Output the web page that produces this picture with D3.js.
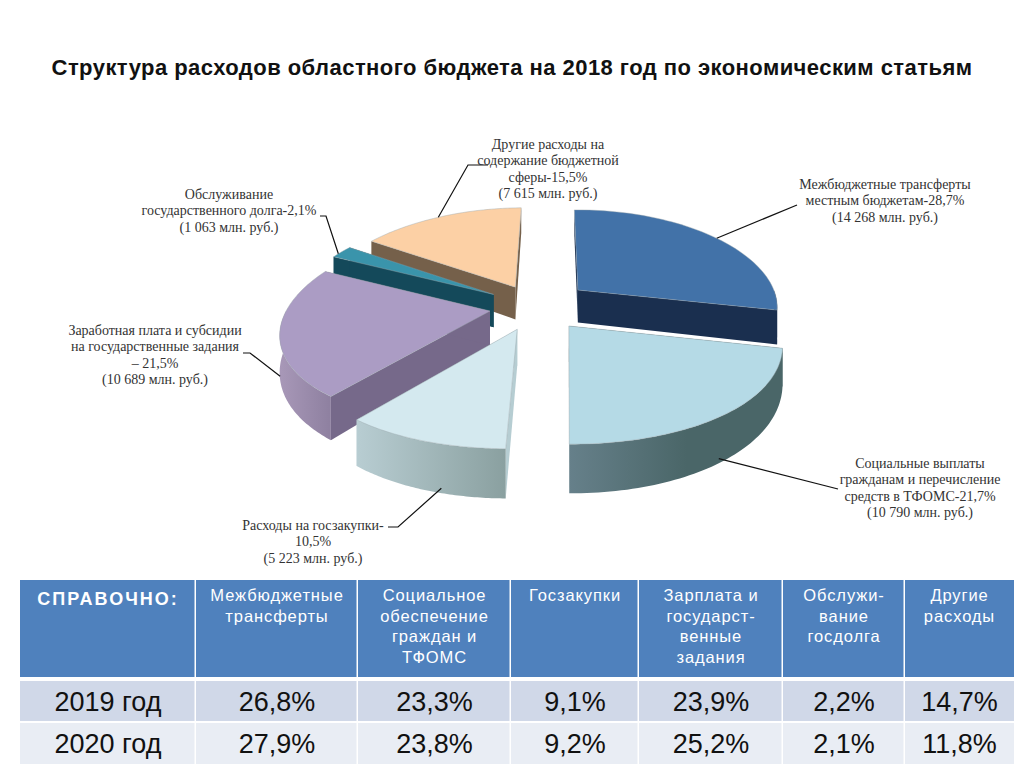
<!DOCTYPE html>
<html><head><meta charset="utf-8">
<script src="https://cdn.jsdelivr.net/npm/d3@7"></script>
<style>html,body{margin:0;padding:0;background:#fff}svg{display:block}</style></head>
<body><svg id="c" width="1024" height="767"></svg>
<script>
const title = "Структура расходов областного бюджета на 2018 год по экономическим статьям";
const sliceKeys = ["blue","social","procure","salary","debt","other"];
const sliceShares = [28.7,21.7,10.5,21.5,2.1,15.5];
const sliceExplode = [0.27,0.26,0.25,0.23,0.25,0.23];
const sliceTop = ["#4272a8","#b5dae6","#d4e9ef","#ab9cc4","#3a94ab","#fcd0a5"];
const sliceFace = ["#1a2f4f","#4a6668","#b6cdd2","#76698a","#14495a","#75604a"];
const rimLeft = ["#1a2f4f","#66808a","#b8cdd2","#a898b8","#14495a","#75604a"];
const rimRight = ["#1a2f4f","#4a6668","#8aa0a0","#8e80a0","#14495a","#75604a"];
const paintOrder = [5,4,0,3,1,2];
const sliceLabels = [
 ["Межбюджетные трансферты","местным бюджетам-28,7%","(14 268 млн. руб.)"],
 ["Социальные выплаты","гражданам и перечисление","средств в ТФОМС-21,7%","(10 790 млн. руб.)"],
 ["Расходы на госзакупки-","10,5%","(5 223 млн. руб.)"],
 ["Заработная плата и субсидии","на государственные задания","– 21,5%","(10 689 млн. руб.)"],
 ["Обслуживание","государственного долга-2,1%","(1 063 млн. руб.)"],
 ["Другие расходы на","содержание бюджетной","сферы-15,5%","(7 615 млн. руб.)"]
];
const labelAnchor = [[885,185],[920,464],[313,526],[155,331],[229,195],[548,145]];
const leaderElbow = [[[797,205]],[[838,489]],[[398,527],[388,527]],[[250,353],[243,353]],[[326,216],[320,216]],[[468,165],[488,165]]];
const leaderAngle = [52,143,195,252,298,330];
const tableHead = ["СПРАВОЧНО:","Межбюджетные|трансферты","Социальное|обеспечение|граждан и|ТФОМС","Госзакупки","Зарплата и|государст-|венные|задания","Обслужи-|вание|госдолга","Другие|расходы"];
const rowNames = ["2019 год","2020 год"];
const row2019 = ["26,8%","23,3%","9,1%","23,9%","2,2%","14,7%"];
const row2020 = ["27,9%","23,8%","9,2%","25,2%","2,1%","11,8%"];
const colEdges = [20,196,358,511,639,783,905,1014];

const svg = d3.select("#c");
const defs = svg.append("defs");
svg.append("text").attr("x",512).attr("y",75).attr("text-anchor","middle")
  .attr("font-family","Liberation Sans").attr("font-weight","bold").attr("font-size",22)
  .attr("letter-spacing",0.45).attr("fill","#111").text(title);

const cx=536, cy=306, R=202, kR=95.5, Py=0.14, Px=0.18, D=34, shear=5.5;
const rad = d=>d*Math.PI/180;
const pie = d3.pie().sort(null).startAngle(rad(-1)).endAngle(rad(359));
const arcs = pie(sliceShares);
function proj(a,r,i){
  const m=(arcs[i].startAngle+arcs[i].endAngle)/2, e=sliceExplode[i];
  const X=r*Math.sin(a)+e*Math.sin(m), Y=r*Math.cos(a)+e*Math.cos(m);
  const sy=1/(1+Py*Y), sx=1/(1+Px*Y);
  return {x:cx+R*X*sx+shear*Y, y:cy-kR*Y*sy, d:D*sy*sy};
}
const line=d3.line().x(p=>p.x).y(p=>p.y);
const down=p=>({x:p.x,y:p.y+p.d});
const samples=(a0,a1)=>d3.range(0,61).map(t=>a0+(a1-a0)*t/60);

paintOrder.forEach(i=>{
  const {startAngle:a0,endAngle:a1}=arcs[i];
  const g=svg.append("g");
  const apex=proj(0,0,i);
  [a0,a1].forEach(a=>{
    const rp=proj(a,1,i);
    g.append("path").attr("d",line([apex,rp,down(rp),down(apex)])+"Z").attr("fill",sliceFace[i]);
  });
  const r0=Math.max(a0,Math.PI/2), r1=Math.min(a1,Math.PI*1.5);
  if(r1>r0){
    const top=samples(r0,r1).map(a=>proj(a,1,i));
    const xs=d3.extent(top,p=>p.x);
    const id="rim"+i;
    const gr=defs.append("linearGradient").attr("id",id).attr("gradientUnits","userSpaceOnUse")
      .attr("x1",xs[0]).attr("x2",xs[1]).attr("y1",0).attr("y2",0);
    gr.append("stop").attr("offset",0).attr("stop-color",rimLeft[i]);
    gr.append("stop").attr("offset",i===1?0.55:1).attr("stop-color",rimRight[i]);
    g.append("path").attr("d",line(top.concat(top.slice().reverse().map(down)))+"Z").attr("fill",`url(#${id})`);
  }
  const rim=samples(a0,a1).map(a=>proj(a,1,i));
  g.append("path").attr("d",line([apex,...rim])+"Z").attr("fill",sliceTop[i])
    .attr("stroke","#9aa6aa").attr("stroke-width",0.6).attr("stroke-opacity",0.7);
});

sliceLabels.forEach((lines,i)=>{
  const p=proj(rad(leaderAngle[i]),1,i);
  const c=Math.cos(rad(leaderAngle[i]));
  const st=c<0?{x:p.x,y:p.y+p.d*0.9}:p;
  const pts=[[st.x,st.y],...leaderElbow[i]];
  svg.append("path").attr("d",d3.line()(pts)).attr("fill","none").attr("stroke","#111").attr("stroke-width",1.2);
  const t=svg.append("text").attr("font-family","Liberation Serif").attr("font-size",14)
    .attr("fill","#333").attr("text-anchor","middle");
  lines.forEach((s,n)=>t.append("tspan").attr("x",labelAnchor[i][0]).attr("y",labelAnchor[i][1]+4+n*16.3).text(s));
});

const tx=d3.scaleOrdinal().domain(d3.range(7)).range(d3.range(7).map(i=>(colEdges[i]+colEdges[i+1])/2));
const rows=[row2019,row2020], rowY=[[681,721],[723,764]], rowFill=["#d0d8e8","#e9edf4"];
const sans="Liberation Sans";
tableHead.forEach((h,i)=>{
  svg.append("rect").attr("x",colEdges[i]).attr("y",580).attr("width",colEdges[i+1]-colEdges[i]-(i<6?1.5:0)).attr("height",97).attr("fill","#4f81bd");
  const t=svg.append("text").attr("text-anchor","middle").attr("fill","#fff").attr("font-family",sans)
    .attr("font-size",i===0?18:16.5).attr("font-weight",i===0?"bold":"normal").attr("letter-spacing",i===0?2:0.9);
  h.split("|").forEach((s,n)=>t.append("tspan").attr("x",tx(i)).attr("y",(i===0?605:601)+n*20.5).text(s));
});
rowNames.forEach((name,r)=>{
  [name,...rows[r]].forEach((v,i)=>{
    svg.append("rect").attr("x",colEdges[i]).attr("y",rowY[r][0]).attr("width",colEdges[i+1]-colEdges[i]-(i<6?1.5:0)).attr("height",rowY[r][1]-rowY[r][0]).attr("fill",rowFill[r]);
    svg.append("text").attr("x",tx(i)).attr("y",(rowY[r][0]+rowY[r][1])/2+9.5).attr("text-anchor","middle")
      .attr("font-family",sans).attr("font-size",27).attr("fill","#111").text(v);
  });
});
</script></body></html>
